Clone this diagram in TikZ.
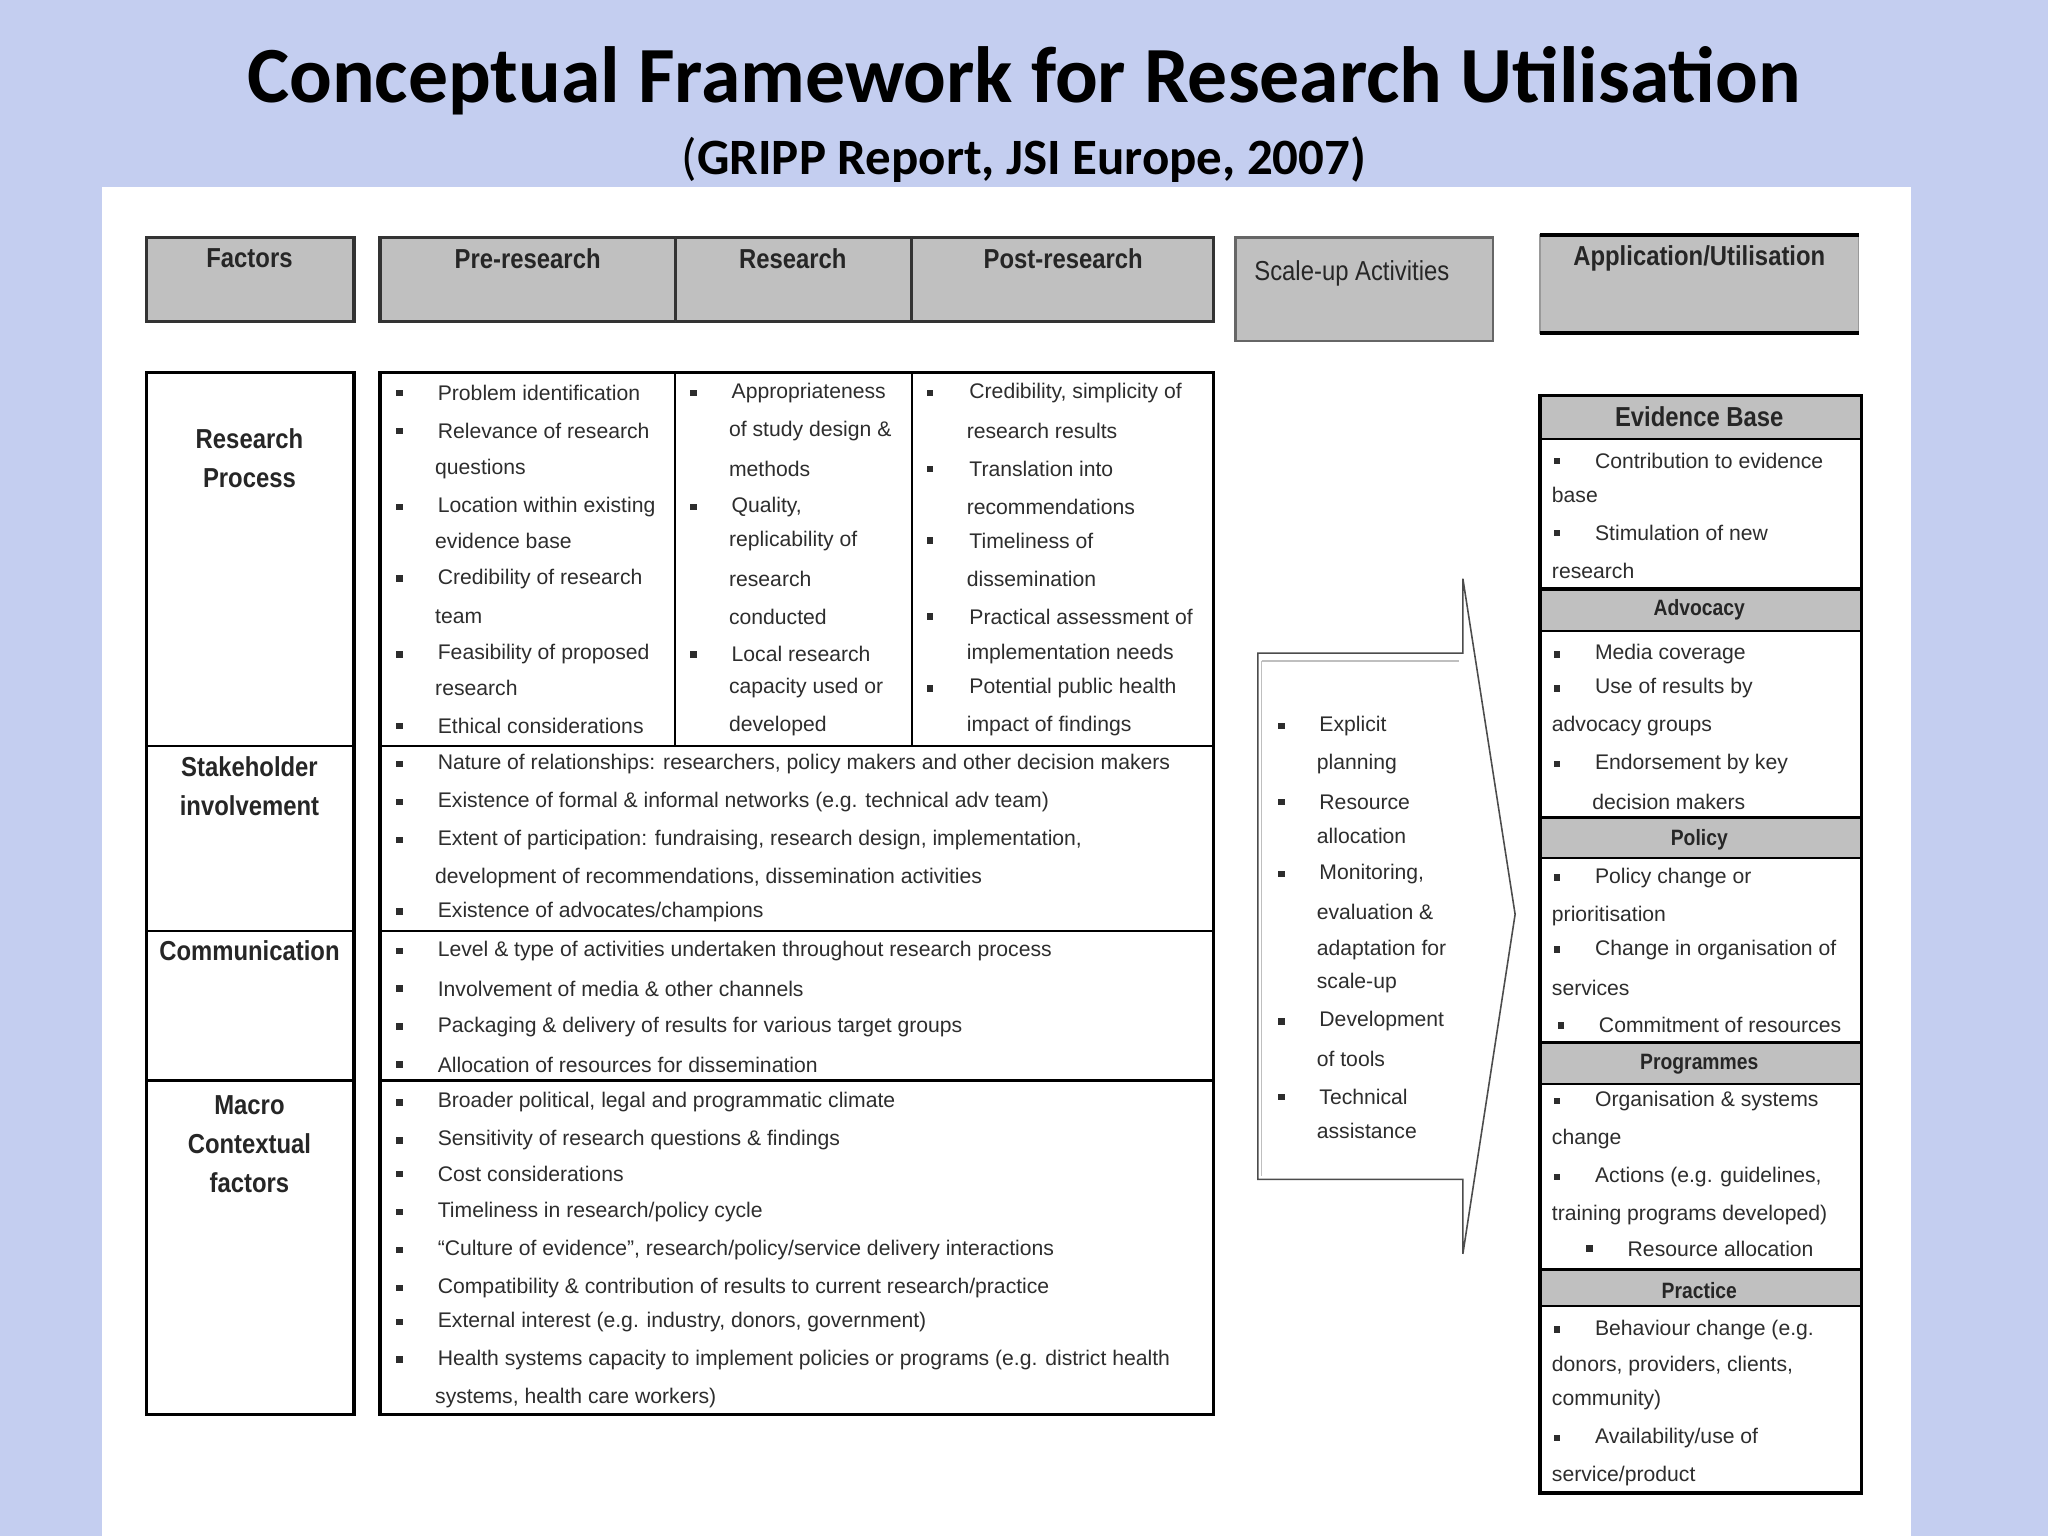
\documentclass[tikz,border=0pt]{standalone}
\usepackage{fontspec}
\setmainfont{Liberation Sans}
\newfontfamily\bodyf[FakeStretch=1.0]{Liberation Sans}
\newfontfamily\headf[FakeStretch=0.87]{Liberation Sans}
\newfontfamily\titlef{Carlito}
\definecolor{bg}{RGB}{196,206,240}
\definecolor{hdr}{RGB}{192,192,192}
\definecolor{tc}{RGB}{45,45,45}
\tikzset{
 txt/.style={anchor=west,inner sep=0pt,text=tc,font=\bodyf\fontsize{16.2}{18}\selectfont},
 hd/.style={inner sep=0pt,text=black!85,font=\headf\bfseries\fontsize{21}{30}\selectfont,align=center},
 hdbox/.style={draw=black!80,line width=2.5pt,fill=hdr},
 frame/.style={draw=black,line width=2.5pt},
 thin/.style={draw=black,line width=1.5pt}
}
\newcommand\T[3]{\node[txt] at (#1,#2) {#3};}
\newcommand\B[4]{\fill[tc] (#1-2.5,#2-2.5) rectangle ++(5,5); \node[txt] at (#3,#2) {#4};}
\begin{document}
\begin{tikzpicture}[x=1pt,y=-1pt]
\useasboundingbox (0,0) rectangle (1568,1176);
\fill[bg] (0,0) rectangle (1568,1176);
\fill[white] (78,143) rectangle (1463,1176);
\node[font=\titlef\bfseries\fontsize{61}{66}\selectfont] (title) at (784,62) {Conceptual Framework for Research Utilisation};
\node[font=\titlef\fontsize{39}{44}\selectfont] (sub) at (784,122) {(\textbf{GRIPP Report, JSI Europe, 2007)}};
% header row
\draw[hdbox] (112,182) rectangle (271,246);
\node[hd] (hf) at (191,198) {Factors};
\draw[hdbox] (291,182) rectangle (929,246);
\draw[hdbox] (517,182) -- (517,246) (698,182) -- (698,246);
\node[hd] (hpre) at (404,198) {Pre-research};
\node[hd] (hres) at (607,198) {Research};
\node[hd] (hpost) at (814,198) {Post-research};
\draw[draw=black!60,line width=2pt,fill=hdr] (946,182) rectangle (1143,261);
\node[hd,font=\headf\fontsize{21}{30}\selectfont] (hsc) at (1035,209) {Scale-up Activities};
\draw[hdbox,draw=black!40,line width=1pt] (1179,180) rectangle (1423,255);
\draw[line width=3.5pt] (1179,180) -- (1423,180) (1179,255) -- (1423,255);
\node[hd] (happ) at (1301,198) {Application/Utilisation};
% factor column
\draw[frame] (112,285) rectangle (271,1083);
\draw[thin] (112,571) -- (271,571) (112,713) -- (271,713);
\draw[frame] (112,827) -- (271,827);
\node[hd] (f1) at (191,351) {Research\\Process};
\node[hd] (f2) at (191,602) {Stakeholder\\involvement};
\node[hd] (f3) at (191,728) {Communication};
\node[hd] (f4) at (191,876) {Macro\\Contextual\\factors};
% middle
\draw[frame] (291,285) rectangle (929,1083);
\draw[thin] (517,285) -- (517,571) (698,285) -- (698,571);
\draw[thin] (291,571) -- (929,571) (291,713) -- (929,713);
\draw[frame] (291,827) -- (929,827);
\B{306}{301}{335}{Problem identification}
\B{306}{330}{335}{Relevance of research}
\T{333}{359}{questions}
\B{306}{388}{335}{Location within existing}
\T{333}{414}{evidence base}
\B{306}{443}{335}{Credibility of research}
\T{333}{472}{team}
\B{306}{501}{335}{Feasibility of proposed}
\T{333}{527}{research}
\B{306}{556}{335}{Ethical considerations}
\B{531}{301}{560}{Appropriateness}
\T{558}{330}{of study design \&}
\T{558}{359}{methods}
\B{531}{388}{560}{Quality,}
\T{558}{414}{replicability of}
\T{558}{443}{research}
\T{558}{472}{conducted}
\B{531}{501}{560}{Local research}
\T{558}{527}{capacity used or}
\T{558}{556}{developed}
\B{712}{301}{742}{Credibility, simplicity of}
\T{740}{330}{research results}
\B{712}{359}{742}{Translation into}
\T{740}{388}{recommendations}
\B{712}{414}{742}{Timeliness of}
\T{740}{443}{dissemination}
\B{712}{472}{742}{Practical assessment of}
\T{740}{501}{implementation needs}
\B{712}{527}{742}{Potential public health}
\T{740}{556}{impact of findings}
\B{306}{585}{335}{Nature of relationships: researchers, policy makers and other decision makers}
\B{306}{614}{335}{Existence of formal \& informal networks (e.g. technical adv team)}
\B{306}{643}{335}{Extent of participation: fundraising, research design, implementation,}
\T{333}{672}{development of recommendations, dissemination activities}
\B{306}{698}{335}{Existence of advocates/champions}
\B{306}{728}{335}{Level \& type of activities undertaken throughout research process}
\B{306}{757}{335}{Involvement of media \& other channels}
\B{306}{786}{335}{Packaging \& delivery of results for various target groups}
\B{306}{815}{335}{Allocation of resources for dissemination}
\B{306}{844}{335}{Broader political, legal and programmatic climate}
\B{306}{873}{335}{Sensitivity of research questions \& findings}
\B{306}{899}{335}{Cost considerations}
\B{306}{928}{335}{Timeliness in research/policy cycle}
\B{306}{957}{335}{“Culture of evidence”, research/policy/service delivery interactions}
\B{306}{986}{335}{Compatibility \& contribution of results to current research/practice}
\B{306}{1012}{335}{External interest (e.g. industry, donors, government)}
\B{306}{1041}{335}{Health systems capacity to implement policies or programs (e.g. district health}
\T{333}{1070}{systems, health care workers)}
% arrow
\draw[draw=black!70,line width=1.2pt] (963,500) coordinate (a1) -- (1120,500) -- (1120,443) -- (1160,700) coordinate (tip) -- (1120,960) -- (1120,903) -- (963,903) -- cycle;
\draw[draw=black!25,line width=1pt] (966,506) -- (1117,506) (966,506) -- (966,900);
\B{981}{556}{1010}{Explicit}
\T{1008}{585}{planning}
\B{981}{614}{1010}{Resource}
\T{1008}{640}{allocation}
\B{981}{669}{1010}{Monitoring,}
\T{1008}{698}{evaluation \&}
\T{1008}{727}{adaptation for}
\T{1008}{753}{scale-up}
\B{981}{782}{1010}{Development}
\T{1008}{811}{of tools}
\B{981}{840}{1010}{Technical}
\T{1008}{866}{assistance}
% right column
\fill[hdr] (1179,303) rectangle (1425,336);
\fill[hdr] (1179,452) rectangle (1425,483);
\fill[hdr] (1179,626) rectangle (1425,657);
\fill[hdr] (1179,799) rectangle (1425,830);
\fill[hdr] (1179,973) rectangle (1425,1000);
\draw[frame] (1179,303) rectangle (1425,1143);
\draw[thin] (1179,336) -- (1425,336) (1179,483) -- (1425,483) (1179,657) -- (1425,657) (1179,830) -- (1425,830) (1179,1000) -- (1425,1000);
\draw[frame] (1179,451) -- (1425,451) (1179,626) -- (1425,626) (1179,798) -- (1425,798) (1179,972) -- (1425,972);
\node[hd] (r1) at (1301,319) {Evidence Base};
\node[hd,font=\headf\bfseries\fontsize{17}{20}\selectfont] (r2) at (1301,467) {Advocacy};
\node[hd,font=\headf\bfseries\fontsize{17}{20}\selectfont] (r3) at (1301,643) {Policy};
\node[hd,font=\headf\bfseries\fontsize{17}{20}\selectfont] (r4) at (1301,815) {Programmes};
\node[hd,font=\headf\bfseries\fontsize{17}{20}\selectfont] (r5) at (1301,988) {Practice};
\B{1192}{353}{1221}{Contribution to evidence}
\T{1188}{379}{base}
\B{1192}{408}{1221}{Stimulation of new}
\T{1188}{437}{research}
\B{1192}{501}{1221}{Media coverage}
\B{1192}{527}{1221}{Use of results by}
\T{1188}{556}{advocacy groups}
\B{1192}{585}{1221}{Endorsement by key}
\T{1219}{614}{decision makers}
\B{1192}{672}{1221}{Policy change or}
\T{1188}{701}{prioritisation}
\B{1192}{727}{1221}{Change in organisation of}
\T{1188}{756}{services}
\B{1195}{785}{1224}{Commitment of resources}
\B{1192}{843}{1221}{Organisation \& systems}
\T{1188}{872}{change}
\B{1192}{901}{1221}{Actions (e.g. guidelines,}
\T{1188}{930}{training programs developed)}
\B{1217}{956}{1246}{Resource allocation}
\B{1192}{1018}{1221}{Behaviour change (e.g.}
\T{1188}{1046}{donors, providers, clients,}
\T{1188}{1072}{community)}
\B{1192}{1101}{1221}{Availability/use of}
\T{1188}{1130}{service/product}
\end{tikzpicture}
\end{document}
